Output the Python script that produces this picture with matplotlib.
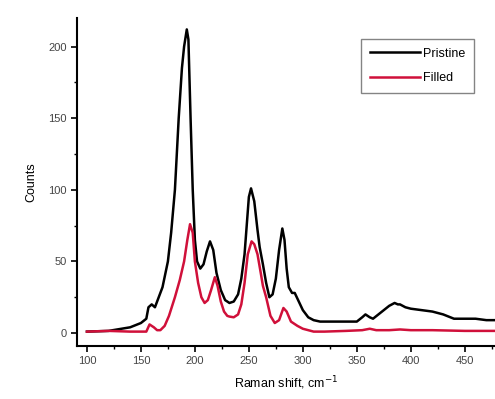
import numpy as np
import matplotlib.pyplot as plt

plt.rcParams['font.family'] = ['Liberation Sans', 'DejaVu Sans']

# Спектр исходного образца (Pristine)
x_pristine = [100, 120, 140, 150, 155, 157, 160, 163, 166, 170, 175, 178, 181.5, 185,
              188, 190, 192.5, 194, 196, 198, 200, 202, 205, 208, 211, 214, 217, 220,
              224, 228, 232, 236, 240, 243, 246, 248, 250, 252, 255, 258, 260, 263,
              266, 269, 272, 275, 278, 281, 283, 285, 287, 290, 292.5, 295, 300, 305,
              310, 316, 330, 340, 350, 355, 358, 362, 365, 370, 375, 380, 385, 388,
              390, 395, 400, 410, 420, 430, 440, 450, 460, 470, 478]
y_pristine = [1, 1.5, 4, 7, 10, 18, 20, 18, 24, 32, 50, 70, 100, 150,
              185, 200, 212, 205, 150, 100, 65, 50, 45, 48, 57, 64, 58, 42,
              30, 23, 21, 22, 27, 38, 55, 75, 95, 101, 92, 72, 60, 48,
              35, 25, 27, 38, 58, 73, 65, 45, 32, 28, 28, 24, 16, 11,
              9, 8, 8, 8, 8, 11, 13, 11, 10, 13, 16, 19, 21, 20,
              20, 18, 17, 16, 15, 13, 10, 10, 10, 9, 9]

# Спектр заполненного образца (Filled)
x_filled = [100, 120, 140, 155, 158, 160, 162, 165, 168, 172, 176, 181.5, 186, 190,
            193, 195.5, 198, 200, 203, 206, 209, 212, 215, 218.5, 221, 224, 227, 230,
            232, 236, 240, 243, 246, 249, 252.5, 255, 258, 261, 263, 266, 270, 274,
            278, 282, 285, 289, 295, 300, 310, 320, 340, 355, 362, 368, 380, 390,
            400, 420, 450, 478]
y_filled = [1, 1.5, 1, 1, 6, 5, 4, 2, 2, 5, 12, 25, 37, 50,
            65, 76, 70, 50, 35, 25, 21, 23, 30, 39, 33, 22, 15, 12,
            11.5, 11, 13, 20, 35, 55, 64, 62, 55, 42, 33, 25, 12, 7,
            9, 17.5, 15, 8, 5, 3, 1, 1, 1.5, 2, 3, 2, 2, 2.5,
            2, 2, 1.5, 1.5]

fig = plt.figure(figsize=(4.95, 3.99), dpi=100)
ax = fig.add_axes([0.156, 0.133, 0.844, 0.822])

ax.plot(x_pristine, y_pristine, color='black', linewidth=1.8, label='Pristine')
ax.plot(x_filled, y_filled, color='#d0103a', linewidth=1.8, label='Filled')

ax.set_xlim(91, 478)
ax.set_ylim(-9, 220)
ax.set_xticks([100, 150, 200, 250, 300, 350, 400, 450])
ax.set_xticks(np.arange(125, 478, 50), minor=True)
ax.set_yticks([0, 50, 100, 150, 200])
ax.set_yticks([25, 75, 125, 175], minor=True)

ax.spines['top'].set_visible(False)
ax.spines['right'].set_visible(False)
ax.spines['left'].set_linewidth(1.5)
ax.spines['bottom'].set_linewidth(1.5)
ax.tick_params(which='major', direction='out', length=4, width=1.2,
               labelsize=8, labelcolor='#444444')
ax.tick_params(which='minor', direction='out', length=2.5, width=1)

ax.set_xlabel('Raman shift, cm$^{-1}$', fontsize=9, labelpad=6)
ax.set_ylabel('Counts', fontsize=9, labelpad=8)

ax.legend(loc='upper left', bbox_to_anchor=(0.665, 0.955), fontsize=9,
          handlelength=4, fancybox=False, edgecolor='#666666',
          borderpad=0.7, labelspacing=1.0, handletextpad=0.2)

plt.savefig('out.png', dpi=100)
